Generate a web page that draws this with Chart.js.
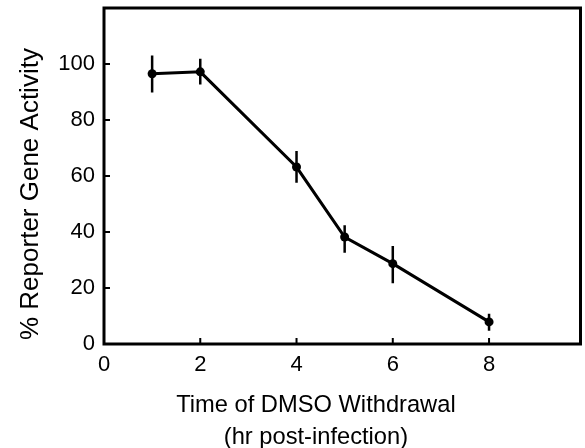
<!DOCTYPE html>
<html>
<head>
<meta charset="utf-8">
<script src="https://cdn.jsdelivr.net/npm/chart.js@4.4.1/dist/chart.umd.min.js"></script>
<style>
html,body{margin:0;padding:0;background:#fff;}
#wrap{width:585px;height:448px;}
</style>
</head>
<body>
<div id="wrap"><canvas id="c"></canvas></div>
<script>
// Data
const timeHr = [1, 2, 4, 5, 6, 8];
const activity = [96.5, 97.2, 63.2, 38.2, 28.7, 7.9];
const errHigh = [103, 101.9, 68.9, 42.4, 35, 10.8];
const errLow = [89.8, 92.7, 57.6, 32.6, 21.7, 4.7];
const xTicks = [0, 2, 4, 6, 8];
const yTicks = [0, 20, 40, 60, 80, 100];
const xTitle = ['Time of DMSO Withdrawal', '(hr post-infection)'];
const yTitle = '% Reporter Gene Activity';

const FONT = '"Liberation Sans", Arial, Helvetica, sans-serif';

const datasets = [{
  label: 'Activity',
  data: timeHr.map((x, i) => ({x: x, y: activity[i]})),
  borderColor: '#000',
  backgroundColor: '#000',
  borderWidth: 3,
  pointRadius: 4.5,
  pointHoverRadius: 4.5,
  pointBackgroundColor: '#000',
  pointBorderWidth: 0,
  tension: 0,
  order: 0
}];
timeHr.forEach((x, i) => {
  datasets.push({
    label: 'err' + i,
    data: [{x: x, y: errLow[i]}, {x: x, y: errHigh[i]}],
    borderColor: '#000',
    borderWidth: 2.5,
    pointRadius: 0,
    tension: 0,
    order: 1
  });
});

const framePlugin = {
  id: 'frame',
  afterDraw(chart) {
    const {ctx, chartArea: a, scales} = chart;
    ctx.save();
    ctx.strokeStyle = '#000';
    ctx.lineWidth = 3;
    ctx.strokeRect(a.left, a.top, a.right - a.left, a.bottom - a.top);
    ctx.lineWidth = 2;
    ctx.beginPath();
    scales.x.ticks.forEach(t => {
      const px = scales.x.getPixelForValue(t.value);
      ctx.moveTo(px, a.bottom);
      ctx.lineTo(px, a.bottom - 6);
    });
    scales.y.ticks.forEach(t => {
      const py = scales.y.getPixelForValue(t.value);
      ctx.moveTo(a.left, py);
      ctx.lineTo(a.left + 6, py);
    });
    ctx.stroke();
    ctx.restore();
  }
};

new Chart(document.getElementById('c'), {
  type: 'line',
  data: {datasets: datasets},
  options: {
    responsive: true,
    maintainAspectRatio: false,
    animation: false,
    devicePixelRatio: 1,
    layout: {padding: {top: 8, right: 2, left: 0, bottom: 0}},
    plugins: {legend: {display: false}, tooltip: {enabled: false}},
    scales: {
      x: {
        type: 'linear',
        min: 0, max: 9.9,
        afterBuildTicks(s) { s.ticks = xTicks.map(v => ({value: v})); },
        afterFit(s) { s.height = 104; s.paddingLeft = 0; s.paddingRight = 0; },
        grid: {display: false, drawTicks: false},
        border: {display: false},
        ticks: {color: '#000', padding: 8, font: {family: FONT, size: 22}, maxRotation: 0},
        title: {
          display: true,
          text: xTitle.map(t => t + '        '),
          color: '#000',
          font: {family: FONT, size: 23.7, lineHeight: 1.35},
          padding: {top: 0, bottom: -5}
        }
      },
      y: {
        type: 'linear',
        min: 0, max: 120,
        afterBuildTicks(s) { s.ticks = yTicks.map(v => ({value: v})); },
        afterFit(s) { s.width = 104; s.paddingTop = 0; s.paddingBottom = 0; },
        grid: {display: false, drawTicks: false},
        border: {display: false},
        ticks: {color: '#000', padding: 9, font: {family: FONT, size: 22}},
        title: {
          display: true,
          text: yTitle + '     ',
          color: '#000',
          font: {family: FONT, size: 26, lineHeight: 1.2},
          padding: {top: 15, bottom: 0}
        }
      }
    }
  },
  plugins: [framePlugin]
});
</script>
</body>
</html>
